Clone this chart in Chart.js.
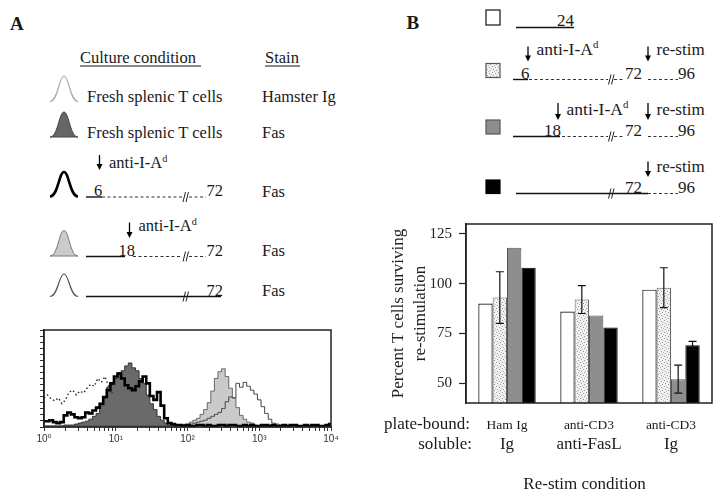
<!DOCTYPE html>
<html>
<head>
<meta charset="utf-8">
<script src="https://cdn.jsdelivr.net/npm/chart.js@4"></script>
<style>
  body { margin: 0; background: #fff; width: 728px; height: 502px; overflow: hidden; position: relative; }
  #art { position: absolute; left: 0; top: 0; font-family: "Liberation Serif", "Times New Roman", serif; fill: #1a1a1a; }
  #hist { position: absolute; left: 0; top: 310px; }
  #bars { position: absolute; left: 370px; top: 200px; }
</style>
</head>
<body>
<svg id="art" width="728" height="502">
  <defs>
    <pattern id="speck" width="6" height="6" patternUnits="userSpaceOnUse">
      <rect width="6" height="6" fill="#f2f2f2"/>
      <rect x="0" y="0" width="1" height="1" fill="#999"/>
      <rect x="3" y="1" width="1" height="1" fill="#999"/>
      <rect x="1" y="3" width="1" height="1" fill="#999"/>
      <rect x="4" y="4" width="1" height="1" fill="#999"/>
      <rect x="5" y="2" width="1" height="1" fill="#bbb"/>
      <rect x="2" y="5" width="1" height="1" fill="#bbb"/>
    </pattern>
  </defs>
</svg>
<canvas id="hist" width="370" height="150" style="width:370px;height:150px"></canvas>
<canvas id="bars" width="358" height="302" style="width:358px;height:302px"></canvas>
<script>
// ---- panel A histogram: Fas staining, % of max, on log10 channels ----
const chanLog = [0,0.05,0.1,0.15,0.2,0.25,0.3,0.35,0.4,0.45,
  0.5,0.55,0.6,0.65,0.7,0.75,0.8,0.85,0.9,0.95,
  1,1.05,1.1,1.15,1.2,1.25,1.3,1.35,1.4,1.45,
  1.5,1.55,1.6,1.65,1.7,1.75,1.8,1.85,1.9,1.95,
  2,2.05,2.1,2.15,2.2,2.25,2.3,2.35,2.4,2.45,
  2.5,2.55,2.6,2.65,2.7,2.75,2.8,2.85,2.9,2.95,
  3,3.05,3.1,3.15,3.2,3.25,3.3,3.35,3.4,3.45,
  3.5,3.55,3.6,3.65,3.7,3.75,3.8,3.85,3.9,3.95,
  4];
const hamIg = [30,33,29,27,30,24,28,36,38,33,
  37,35,40,44,42,50,46,52,42,35];
const fasFresh = [1,1,1,1,1,1,2,2,2,3,
  4,5,6,8,11,14,22,30,41,44,
  50,56,58,63,66,61,58,50,45,33,
  24,18,11,7,4,2,1,1,0.5,0.5];
const fas6h = [6,6,7,5,4,5,12,15,13,10,
  9,10,15,14,17,20,24,31,38,45,
  52,55,50,43,40,38,42,47,52,45,
  32,28,36,22,9,4,3,2,2,1,
  2,1,1,2,2,1,2,1,1,2,
  2,1,2,2,1,1,2,1,2,1,
  1,2,2,1,2,1,1,2,1,2,
  2,1,1,2,1,2,2,1,1,2,
  3];
const fas18h = [0.5,0.5,0.5,0.5,0.5,0.5,0.5,0.5,0.5,0.5,
  0.5,0.5,0.5,0.5,0.5,0.5,0.5,0.5,0.5,0.5,
  0.5,0.5,0.5,0.5,0.5,0.5,0.5,0.5,0.5,0.5,
  0.5,0.5,0.5,0.5,1,1,1,1,1.5,2,
  3,5,7,9,13,18,25,37,50,57,
  60,52,40,30,20,12,8,5,4,2,
  1,0.5,0.5,0.5,0.5,0.5,0.5,0.5,0.5,0.5,
  0.5,0.5,0.5,0.5,0.5,0.5,0.5,0.5,0.5,0.5,
  0.5];
const fas72h = [1,1,1,1,1,1,1,1,1,1,
  1,1,1,1,1,1,1,1,1,1,
  1,1,1,1,1,1,1,1,1,1,
  1,1,1,1,1,1,1,1,1,2,
  2,3,4,5,6,7,9,11,13,15,
  19,26,31,30,45,41,46,42,38,34,
  28,21,14,8,4,3,2,1,1,1,
  1,1,1,1,1,1,1,1,1,1,
  1];
const decadeVals = [1, 10, 100, 1000, 10000];
const decadeLabels = ['10⁰', '10¹', '10²', '10³', '10⁴'];
const minorMult = [1, 2, 3, 4, 5, 6, 7, 8, 9];

// ---- panel B bars: percent surviving re-stimulation ----
const plateBound = ['Ham Ig', 'anti-CD3', 'anti-CD3'];
const soluble = ['Ig', 'anti-FasL', 'Ig'];
const surv24 = [90, 86, 97];
const survIA6 = [93, 92, 98];
const survIA18 = [118, 84, 52];
const survNone = [108, 78, 69];
const errIA6 = [13, 7, 10];
const errIA18 = [null, null, 7];
const errNone = [null, null, 2];
const survTicks = [50, 75, 100, 125];

const SERIF = '"Liberation Serif", "Times New Roman", serif';

// ---------- drawn legend / timeline diagrams ----------
const NS = 'http://www.w3.org/2000/svg';
const art = document.getElementById('art');
function add(tag, attrs, text) {
  const e = document.createElementNS(NS, tag);
  for (const k in attrs) e.setAttribute(k, attrs[k]);
  if (text != null) e.textContent = text;
  art.appendChild(e);
  return e;
}
function label(x, y, s, size, opt = {}) {
  return add('text', {x, y, 'font-size': size, 'font-weight': opt.bold ? 'bold' : 'normal',
    'text-anchor': opt.anchor || 'start'}, s);
}
function antiIA(x, y, size) {
  const t = label(x, y, 'anti-I-A', size);
  const sup = document.createElementNS(NS, 'tspan');
  sup.setAttribute('dy', -size * 0.38);
  sup.setAttribute('font-size', size * 0.62);
  sup.textContent = 'd';
  t.appendChild(sup);
}
function arrow(x, y1, y2) {
  add('line', {x1: x, y1, x2: x, y2: y2 - 4, stroke: '#000', 'stroke-width': 1.3});
  add('path', {d: `M${x - 3},${y2 - 6}L${x + 3},${y2 - 6}L${x},${y2}Z`, fill: '#000'});
}
function solid(x1, x2, y, w) {
  add('line', {x1, x2, y1: y, y2: y, stroke: '#111', 'stroke-width': w || 1.4});
}
function dashed(x1, x2, y) {
  add('line', {x1, x2, y1: y, y2: y, stroke: '#333', 'stroke-width': 1, 'stroke-dasharray': '3 2.5'});
}
function brk(x, y) {
  for (const dx of [0, 3]) add('line', {x1: x + dx, y1: y + 5, x2: x + dx + 2.5, y2: y - 5, stroke: '#222', 'stroke-width': 1});
}
function bell(yt, yb, fill, stroke, w) {
  const d = `M50,${yb}C58,${yb} 59,${yt} 64,${yt}C69,${yt} 70,${yb} 78,${yb}` + (fill !== 'none' ? 'Z' : '');
  add('path', {d, fill, stroke, 'stroke-width': w});
}
function box(y, h, fill, stroke) {
  add('rect', {x: 486, y, width: 14, height: h, fill, stroke, 'stroke-width': 1.2});
}

// panel A
label(10, 30, 'A', 19, {bold: true});
label(80, 63, 'Culture condition', 16.5); solid(80, 201, 66, 1);
label(265, 63, 'Stain', 16.5); solid(265, 300, 66, 1);
bell(76, 101.5, 'none', '#aaa', 1.2);
label(87, 102, 'Fresh splenic T cells', 16.5); label(262, 102, 'Hamster Ig', 16.5);
bell(112, 137, '#666', '#444', 1);
label(87, 138, 'Fresh splenic T cells', 16.5); label(262, 138, 'Fas', 16.5);
arrow(99.5, 155, 170); antiIA(109, 168, 16.5);
bell(172, 196.5, 'none', '#000', 2.6);
solid(86, 102, 197); label(98, 196, '6', 16.5, {anchor: 'middle'});
dashed(102, 182, 197); brk(183, 197); dashed(189, 206, 197);
label(206.5, 196, '72', 16.5); label(262, 197, 'Fas', 16.5);
arrow(129.5, 222.5, 238); antiIA(138.5, 231, 16.5);
bell(230.5, 256, '#cbcbcb', '#777', 1);
solid(86, 125, 256.5); label(118.5, 256, '18', 16.5);
dashed(133, 182, 256.5); brk(183, 256.5); dashed(189, 206, 256.5);
label(206.5, 256, '72', 16.5); label(262, 256, 'Fas', 16.5);
bell(274, 296.5, 'none', '#555', 1.2);
solid(86, 221, 296.5); brk(183, 296.5);
label(206.5, 296, '72', 16.5); label(262, 296, 'Fas', 16.5);

// panel B
label(406.5, 29, 'B', 19, {bold: true});
box(10, 15, '#fff', '#111'); solid(516, 574, 27.5); label(557, 26, '24', 17);
arrow(528, 46.5, 61.5); antiIA(536.5, 54.5, 17.5);
arrow(648, 46.5, 61.5); label(656.5, 54.5, 're-stim', 17);
box(63.5, 14, 'url(#speck)', '#555');
solid(513, 528, 79.5); label(521, 79, '6', 17);
dashed(529, 608, 79.5); brk(608.5, 79.5); dashed(614, 625, 79.5);
label(625, 79, '72', 17); dashed(648, 678, 79.5); label(678, 79, '96', 17);
arrow(558, 103, 120); antiIA(566.5, 115, 17.5);
arrow(648, 103, 120); label(656.5, 115, 're-stim', 17);
box(120, 14, '#8e8e8e', '#555');
solid(513, 560, 136.5); label(544, 136, '18', 17);
dashed(562, 608, 136.5); brk(608.5, 136.5); dashed(614, 625, 136.5);
label(625, 136, '72', 17); dashed(648, 678, 136.5); label(678, 136, '96', 17);
arrow(648, 161.5, 177); label(656.5, 172, 're-stim', 17);
box(180, 13.5, '#000', '#000');
solid(516, 648, 193.5); brk(608.5, 193.5);
label(625, 193, '72', 17); dashed(648, 678, 193.5); label(678, 193, '96', 17);

// ---------- histogram ----------
const pts = arr => arr.map((y, i) => ({x: 10 ** chanLog[i], y}));
const frame = {
  id: 'frame',
  afterDraw(chart) {
    const {ctx, chartArea: a} = chart;
    ctx.save();
    ctx.strokeStyle = '#222';
    ctx.lineWidth = 1.5;
    ctx.strokeRect(a.left, a.top, a.right - a.left, a.bottom - a.top);
    ctx.restore();
  }
};

new Chart(document.getElementById('hist'), {
  type: 'line',
  data: {
    datasets: [
      {label: 'anti-I-Ad at 6 h', data: pts(fas6h), borderColor: '#000', borderWidth: 2.6, fill: false, order: 0},
      {label: 'no anti-I-Ad', data: pts(fas72h), borderColor: '#444', borderWidth: 1, fill: false, order: 1},
      {label: 'Hamster Ig', data: pts(hamIg), borderColor: '#222', borderWidth: 1.4, borderDash: [1.5, 2.5], fill: false, order: 2, stepped: false},
      {label: 'anti-I-Ad at 18 h', data: pts(fas18h), borderColor: '#666', borderWidth: 1, backgroundColor: '#cacaca', fill: 'origin', order: 3},
      {label: 'Fresh Fas', data: pts(fasFresh), borderColor: '#333', borderWidth: 1, backgroundColor: '#6a6a6a', fill: 'origin', order: 4}
    ]
  },
  options: {
    responsive: false,
    animation: false,
    devicePixelRatio: 1,
    elements: {point: {radius: 0}, line: {tension: 0, stepped: 'middle'}},
    layout: {padding: {top: 20, right: 39, left: 0, bottom: 0}},
    plugins: {legend: {display: false}, tooltip: {enabled: false}},
    scales: {
      x: {
        type: 'logarithmic', min: 1, max: 10000,
        afterBuildTicks: s => {
          const t = [];
          decadeVals.slice(0, 4).forEach(d => minorMult.forEach(m => t.push({value: d * m})));
          t.push({value: 10000});
          s.ticks = t;
        },
        afterFit: s => { s.height = 33; },
        ticks: {
          autoSkip: false, maxRotation: 0, padding: 2, color: '#333',
          font: {family: '"Liberation Sans", "DejaVu Sans", sans-serif', size: 10},
          callback: v => { const k = decadeVals.indexOf(v); return k >= 0 ? decadeLabels[k] : ''; }
        },
        grid: {drawOnChartArea: false, tickLength: 4, color: '#333'},
        border: {color: '#222', width: 1.5}
      },
      y: {
        min: 0, max: 100,
        ticks: {display: false, stepSize: 6.25},
        afterFit: s => { s.width = 44; },
        grid: {drawOnChartArea: false, tickLength: 4, color: '#333'},
        border: {color: '#222', width: 1.5}
      }
    }
  },
  plugins: [frame]
});

// ---------- bar chart ----------
const barCtx = document.getElementById('bars').getContext('2d');
function speckle() {
  const c = document.createElement('canvas');
  c.width = 6; c.height = 6;
  const g = c.getContext('2d');
  g.fillStyle = '#f2f2f2'; g.fillRect(0, 0, 6, 6);
  g.fillStyle = '#999';
  [[0, 0], [3, 1], [1, 3], [4, 4]].forEach(([x, y]) => g.fillRect(x, y, 1, 1));
  g.fillStyle = '#bbb';
  [[5, 2], [2, 5]].forEach(([x, y]) => g.fillRect(x, y, 1, 1));
  return barCtx.createPattern(c, 'repeat');
}
const errors = [null, errIA6, errIA18, errNone];

const errBars = {
  id: 'errBars',
  afterDatasetsDraw(chart) {
    const {ctx, scales: {y}} = chart;
    ctx.save();
    ctx.strokeStyle = '#111';
    ctx.lineWidth = 1.2;
    errors.forEach((errs, di) => {
      if (!errs) return;
      chart.getDatasetMeta(di).data.forEach((bar, i) => {
        const e = errs[i];
        if (e == null) return;
        const v = chart.data.datasets[di].data[i];
        const x = bar.x, y1 = y.getPixelForValue(v + e), y2 = y.getPixelForValue(v - e);
        ctx.beginPath();
        ctx.moveTo(x, y1); ctx.lineTo(x, y2);
        ctx.moveTo(x - 4, y1); ctx.lineTo(x + 4, y1);
        ctx.moveTo(x - 4, y2); ctx.lineTo(x + 4, y2);
        ctx.stroke();
      });
    });
    ctx.restore();
  }
};

const condLabels = {
  id: 'condLabels',
  afterDraw(chart) {
    const {ctx, scales: {x}} = chart;
    ctx.save();
    ctx.fillStyle = '#1a1a1a';
    ctx.textBaseline = 'middle';
    ctx.textAlign = 'right';
    ctx.font = '17px ' + SERIF;
    ctx.fillText('plate-bound:', 100, 225);
    ctx.fillText('soluble:', 102, 245);
    ctx.textAlign = 'center';
    ctx.font = '13.5px ' + SERIF;
    plateBound.forEach((s, i) => ctx.fillText(s, x.getPixelForValue(i), 225));
    ctx.font = '17px ' + SERIF;
    soluble.forEach((s, i) => ctx.fillText(s, x.getPixelForValue(i), 245));
    ctx.fillText('Re-stim condition', 214.5, 285);
    ctx.restore();
  }
};

new Chart(barCtx, {
  type: 'bar',
  data: {
    labels: plateBound.map((p, i) => p + ' / ' + soluble[i]),
    datasets: [
      {label: '24 h', data: surv24, backgroundColor: '#fff', borderColor: '#111', borderWidth: 1.2},
      {label: 'anti-I-Ad at 6 h', data: survIA6, backgroundColor: speckle(), borderColor: '#666', borderWidth: 1},
      {label: 'anti-I-Ad at 18 h', data: survIA18, backgroundColor: '#8e8e8e', borderColor: '#555', borderWidth: 1},
      {label: 'no anti-I-Ad', data: survNone, backgroundColor: '#000', borderColor: '#000', borderWidth: 1}
    ]
  },
  options: {
    responsive: false,
    animation: false,
    devicePixelRatio: 1,
    categoryPercentage: 0.7,
    barPercentage: 1,
    layout: {padding: {top: 24, right: 16, bottom: 99, left: 0}},
    plugins: {legend: {display: false}, tooltip: {enabled: false}},
    scales: {
      x: {display: false},
      y: {
        min: 40, max: 130,
        afterBuildTicks: s => { s.ticks = survTicks.map(v => ({value: v})); },
        afterFit: s => { s.width = 96; },
        ticks: {font: {family: SERIF, size: 15}, color: '#222', padding: 7},
        grid: {drawOnChartArea: false, tickLength: 7, color: '#222', tickWidth: 1.2},
        border: {color: '#222', width: 1.5},
        title: {
          display: true,
          text: ['Percent T cells surviving', 're-stimulation'],
          font: {family: SERIF, size: 17, lineHeight: 1.3},
          color: '#222',
          padding: {top: 17, bottom: 0}
        }
      }
    }
  },
  plugins: [frame, errBars, condLabels]
});
</script>
</body>
</html>
